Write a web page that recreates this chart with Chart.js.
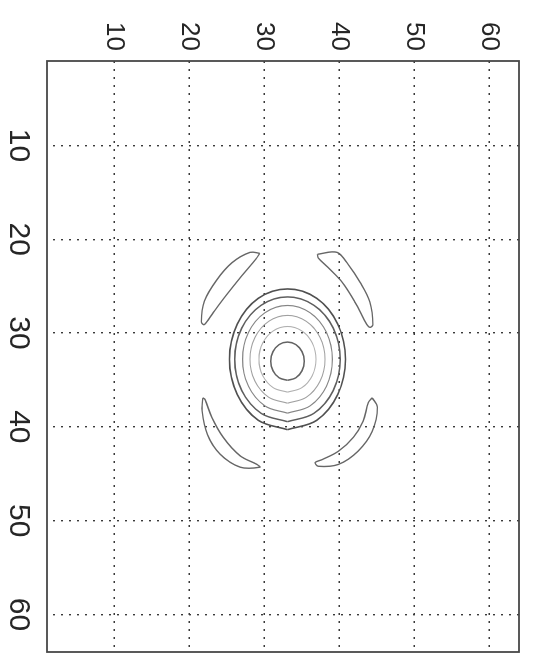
<!DOCTYPE html>
<html>
<head>
<meta charset="utf-8">
<script src="https://cdn.jsdelivr.net/npm/chart.js@4.4.0/dist/chart.umd.min.js"></script>
<style>
  html, body { margin: 0; padding: 0; background: #fff; overflow: hidden; }
  /* the figure is drawn upright, then turned a quarter turn clockwise like the scan */
  #wrap { position: absolute; left: 0; top: 0; width: 655px; height: 533px;
          transform-origin: 0 0; transform: translate(533px, 0) rotate(90deg); }
</style>
</head>
<body>
<div id="wrap"><canvas id="contour" width="655" height="533"></canvas></div>
<script>
// tick labels
const xTicks = [10, 20, 30, 40, 50, 60];
const yTicks = [10, 20, 30, 40, 50, 60];

// central rings, outermost first  [x, y]
const ring1 = [[40.3,33.1],[39.3,37.0],[36.55,39.8],[32.8,40.84],[29.05,39.8],[26.3,37.0],[25.3,33.1],[26.3,29.2],[29.05,26.4],[32.8,25.36],[36.55,26.4],[39.3,29.2],[40.3,33.1]];
const ring2 = [[39.45,33.1],[38.56,36.63],[36.13,39.21],[32.8,40.15],[29.47,39.21],[27.04,36.63],[26.15,33.1],[27.04,29.57],[29.47,26.99],[32.8,26.05],[36.13,26.99],[38.56,29.57],[39.45,33.1]];
const ring3 = [[38.54,33.1],[37.77,36.1],[35.67,38.3],[32.8,39.1],[29.93,38.3],[27.83,36.1],[27.06,33.1],[27.83,30.1],[29.93,27.9],[32.8,27.1],[35.67,27.9],[37.77,30.1],[38.54,33.1]];
const ring4 = [[37.48,33.1],[36.85,35.6],[35.14,37.43],[32.8,38.1],[30.46,37.43],[28.75,35.6],[28.12,33.1],[28.75,30.6],[30.46,28.77],[32.8,28.1],[35.14,28.77],[36.85,30.6],[37.48,33.1]];
const ring5 = [[36.3,33.1],[35.83,35.0],[34.55,36.39],[32.8,36.9],[31.05,36.39],[29.77,35.0],[29.3,33.1],[29.77,31.2],[31.05,29.81],[32.8,29.3],[34.55,29.81],[35.83,31.2],[36.3,33.1]];
const ringInner = [[35.04,33.1],[34.77,34.22],[34.02,35.03],[33.0,35.33],[31.98,35.03],[31.23,34.22],[30.96,33.1],[31.23,31.98],[31.98,31.17],[33.0,30.87],[34.02,31.17],[34.77,31.98],[35.04,33.1]];

// the four side lobes
const lobeA = [[21.5,29.4],[21.4,28.1],[22.5,25.7],[24.4,23.6],[26.6,22.0],[28.8,21.6],[29.1,22.0],[27.8,23.2],[26.0,24.9],[23.9,27.0],[22.1,28.9],[21.5,29.4]];
const lobeB = [[21.6,37.1],[21.4,39.7],[22.7,41.2],[24.6,42.8],[26.7,44.1],[29.1,44.5],[29.4,44.1],[29.1,43.7],[26.7,42.1],[24.6,40.4],[23.0,38.5],[22.0,37.2],[21.6,37.1]];
const lobeC = [[36.9,21.8],[38.3,21.7],[40.8,22.4],[42.9,24.1],[44.3,26.8],[44.3,29.4],[44.0,29.0],[43.1,26.8],[41.1,24.5],[39.0,23.0],[37.1,22.1],[36.9,21.8]];
const lobeD = [[36.9,44.4],[37.9,45.1],[40.5,44.4],[42.6,42.5],[44.0,39.9],[44.2,37.2],[43.8,36.8],[43.5,37.7],[42.6,39.9],[41.1,41.9],[39.4,43.2],[37.4,43.9],[36.9,44.4]];

const FONT = "'Liberation Sans', Arial, Helvetica, sans-serif";

function contour(pts, color, width) {
    return {
        data: pts.map(p => ({ x: p[0], y: p[1] })),
        showLine: true,
        borderColor: color,
        borderWidth: width,
        pointRadius: 0,
        tension: 0.35,
        fill: false
    };
}

// MATLAB style closed box round the axes
const boxPlugin = {
    id: 'box',
    afterDraw(chart) {
        const a = chart.chartArea;
        const c = chart.ctx;
        c.save();
        c.strokeStyle = '#484848';
        c.lineWidth = 1.8;
        c.strokeRect(a.left, a.top, a.right - a.left, a.bottom - a.top);
        c.restore();
    }
};

const config = {
    type: 'scatter',
    data: {
        datasets: [
            contour(lobeA, '#666666', 1.4),
            contour(lobeB, '#666666', 1.4),
            contour(lobeC, '#666666', 1.4),
            contour(lobeD, '#666666', 1.4),
            contour(ring1, '#505050', 1.6),
            contour(ring2, '#5e5e5e', 1.5),
            contour(ring3, '#858585', 1.2),
            contour(ring4, '#a0a0a0', 1.1),
            contour(ring5, '#b0b0b0', 1.1),
            contour(ringInner, '#626262', 1.5)
        ]
    },
    options: {
        responsive: false,
        devicePixelRatio: 1,
        animation: false,
        layout: { padding: { left: 0, right: 3, top: 14, bottom: 0 } },
        plugins: {
            legend: { display: false },
            tooltip: { enabled: false }
        },
        scales: {
            x: {
                type: 'linear',
                position: 'bottom',
                min: 1,
                max: 64,
                afterBuildTicks: s => { s.ticks = xTicks.map(v => ({ value: v })); },
                afterFit: s => { s.height = 47; s.paddingLeft = 0; s.paddingRight = 0; },
                grid: { color: '#3a3a3a', lineWidth: 1.4, drawTicks: false },
                border: { display: false, dash: [2, 6] },
                ticks: { autoSkip: false, maxRotation: 0, padding: 11, color: '#262626',
                         font: { family: FONT, size: 30 } }
            },
            y: {
                type: 'linear',
                position: 'left',
                min: 1,
                max: 64,
                afterBuildTicks: s => { s.ticks = yTicks.map(v => ({ value: v })); },
                afterFit: s => { s.width = 61; s.paddingTop = 0; s.paddingBottom = 0; },
                grid: { color: '#3a3a3a', lineWidth: 1.4, drawTicks: false },
                border: { display: false, dash: [2, 6] },
                ticks: { autoSkip: false, padding: 10, color: '#262626',
                         font: { family: FONT, size: 26 } }
            }
        }
    },
    plugins: [boxPlugin]
};

const contourChart = new Chart(document.getElementById('contour').getContext('2d'), config);
</script>
</body>
</html>
